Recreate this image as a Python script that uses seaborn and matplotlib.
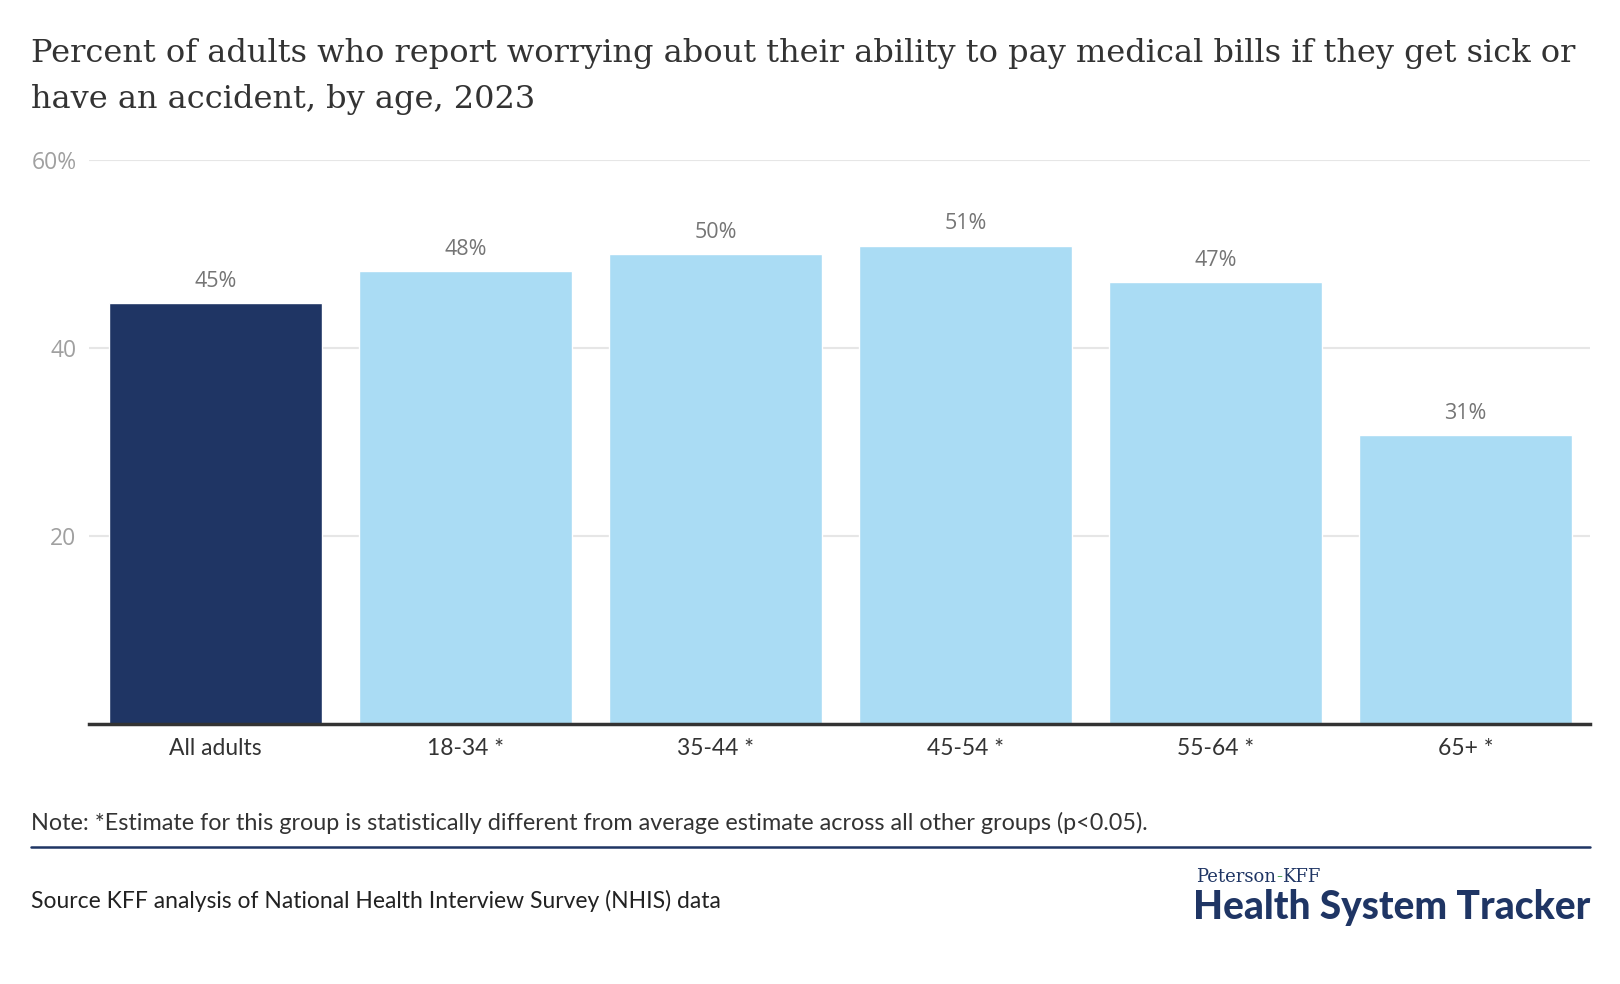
import matplotlib
matplotlib.use("Agg")
import matplotlib.pyplot as plt
import seaborn as sns
from matplotlib.lines import Line2D

# data
groups = ["All adults", "18-34 *", "35-44 *", "45-54 *", "55-64 *", "65+ *"]
pct = [44.8, 48.2, 50.0, 50.9, 47.0, 30.7]
bar_colors = ["#1f3564", "#aadcf4", "#aadcf4", "#aadcf4", "#aadcf4", "#aadcf4"]
yticks = [20, 40, 60]
ytick_labels = ["20", "40", "60%"]

title = ("Percent of adults who report worrying about their ability to pay medical bills if they get sick or\n"
         "have an accident, by age, 2023")
note = "Note: *Estimate for this group is statistically different from average estimate across all other groups (p<0.05)."
source = "Source KFF analysis of National Health Interview Survey (NHIS) data"

sns.set_style("white")
plt.rcParams["font.family"] = ["Lato", "DejaVu Sans"]

W, H = 1620, 984
fig = plt.figure(figsize=(W / 100, H / 100), dpi=100)
ax = fig.add_axes([89 / W, 1 - 724 / H, (1590 - 89) / W, (724 - 160) / H])

sns.barplot(x=groups, y=pct, hue=groups, palette=bar_colors, width=0.85,
            saturation=1, legend=False, ax=ax)

ax.set_xlim(-0.506, 5.498)
ax.set_ylim(0, 60)
ax.set_yticks(yticks)
ax.set_yticklabels(ytick_labels, family=["Open Sans"])
ax.set_xlabel("")
ax.set_ylabel("")
ax.yaxis.grid(True, color="#e6e6e6", lw=1.5)
ax.set_axisbelow(True)
ax.tick_params(axis="y", length=0, pad=9, labelsize=16.5, labelcolor="#a0a0a0")
ax.tick_params(axis="x", length=0, pad=10, labelsize=16.5, labelcolor="#333333")
for s in ["left", "right", "top"]:
    ax.spines[s].set_visible(False)
ax.spines["bottom"].set_color("#333333")
ax.spines["bottom"].set_linewidth(2.5)

for cont in ax.containers:
    ax.bar_label(cont, fmt="{:.0f}%", padding=8, fontsize=15.5, color="#757575",
                 family=["Open Sans"])

fig.text(31 / W, 1 - 38 / H, title, family=["DejaVu Serif"], fontsize=23,
         color="#333333", va="top", linespacing=1.62)

fig.text(31 / W, 1 - 830 / H, note, fontsize=16.8, color="#333333", va="baseline")
fig.add_artist(Line2D([31 / W, 1590 / W], [1 - 847 / H, 1 - 847 / H],
                      color="#1f3564", lw=1.8))
fig.text(31 / W, 1 - 908 / H, source, fontsize=16.5, color="#222222", va="baseline")

# logo
t1 = fig.text(1196 / W, 1 - 882 / H, "Peterson", family=["DejaVu Serif"],
              fontsize=13, color="#1f3564", va="baseline")
t2 = ax.annotate("-", xy=(1, 0), xycoords=t1, family=["DejaVu Serif"],
                 fontsize=13, color="#3fa34d", va="bottom", ha="left")
ax.annotate("KFF", xy=(1, 0), xycoords=t2, family=["DejaVu Serif"],
            fontsize=13, color="#1f3564", va="bottom", ha="left")
fig.text(1590 / W, 1 - 919 / H, "Health System Tracker", fontsize=28,
         fontweight="black", color="#1f3564", va="baseline", ha="right")

fig.savefig("out.png", dpi=100)
